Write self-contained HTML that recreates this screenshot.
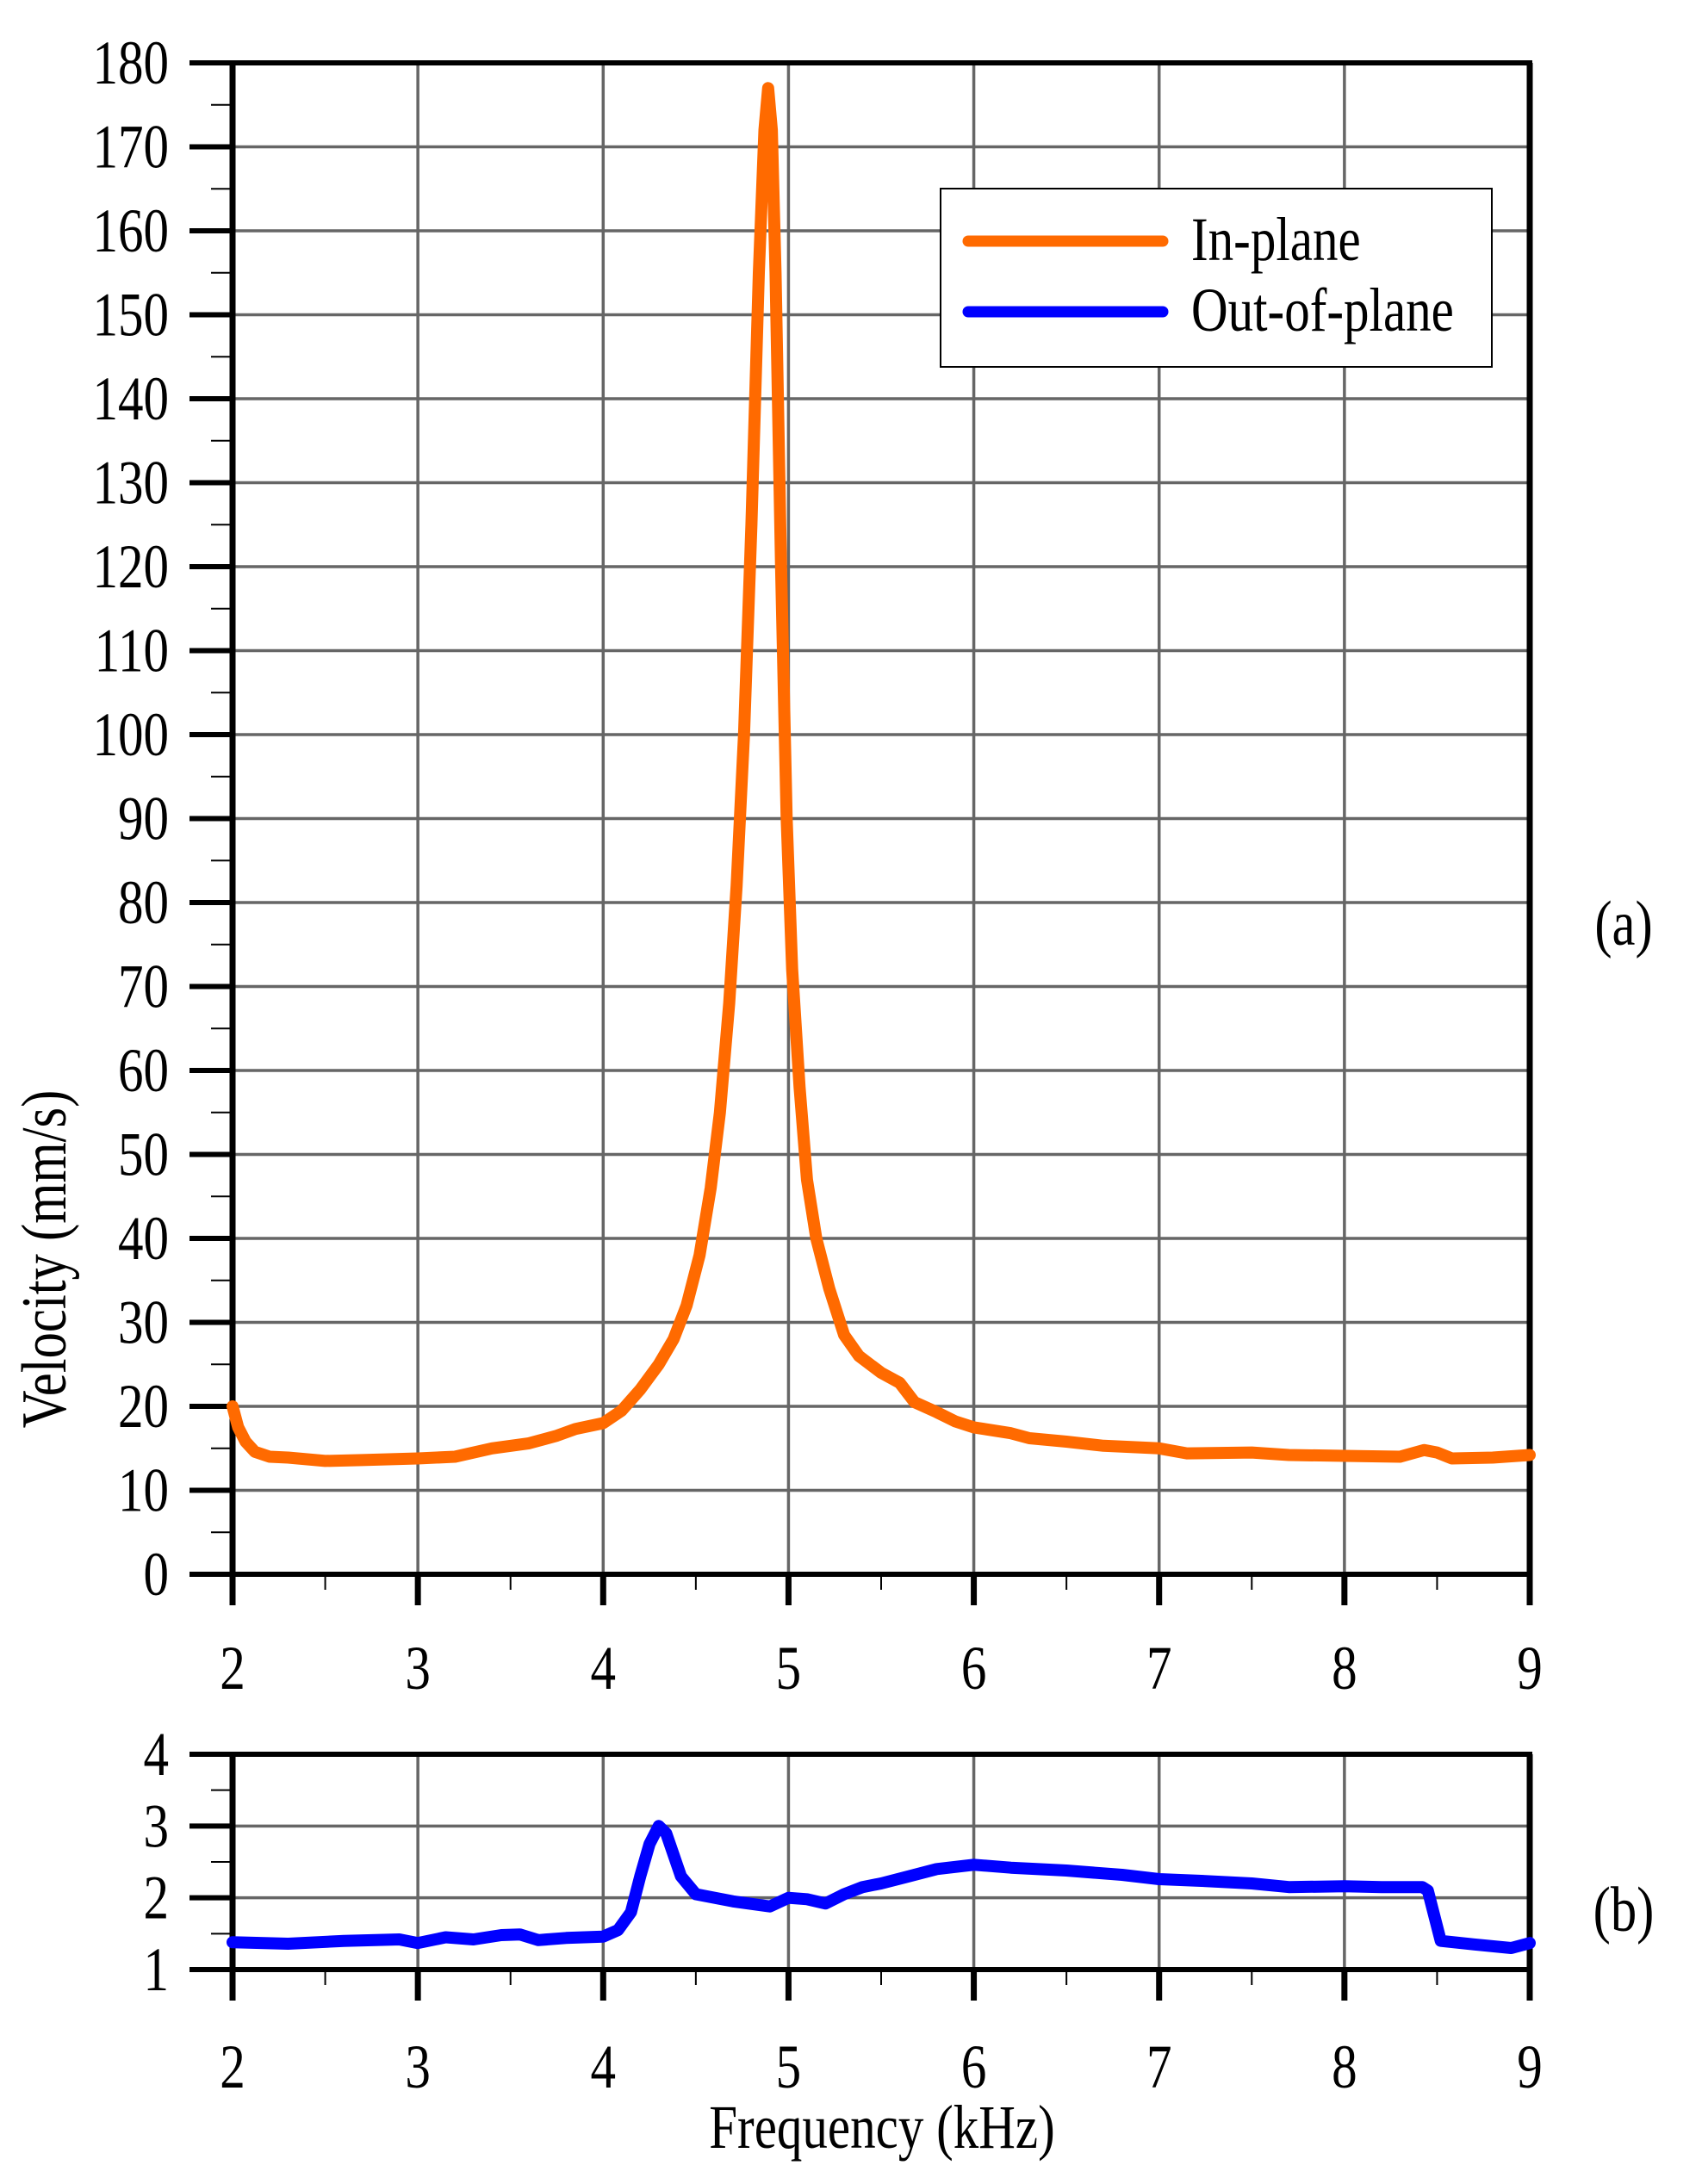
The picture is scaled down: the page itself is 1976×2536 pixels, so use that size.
<!DOCTYPE html>
<html><head><meta charset="utf-8"><style>html,body{margin:0;padding:0;background:#fff}svg{display:block}</style></head>
<body>
<svg id="s" width="1976" height="2536" xmlns="http://www.w3.org/2000/svg" font-family="Liberation Serif, serif"></svg>
<script>
const S=document.getElementById('s');
const X0=270,X1=1776,kx=(X1-X0)/7;
const fx=f=>X0+(f-2)*kx;
const T0=73,TB=1828,fyT=v=>TB-(v/180)*(TB-T0);
const B0=2037,BB=2287,fyB=v=>BB-(v-1)/3*(BB-B0);
let h='';
function line(x1,y1,x2,y2,c,w){h+=`<line x1="${x1}" y1="${y1}" x2="${x2}" y2="${y2}" stroke="${c}" stroke-width="${w}"/>`;}
function cond(x,y,s,size,anchor){h+=`<g transform="translate(${x},${y}) scale(0.82,1)"><text x="0" y="0" font-size="${size}" text-anchor="${anchor||'middle'}">${s}</text></g>`;}
for(let v=10;v<180;v+=10)line(X0,fyT(v),X1,fyT(v),'#666',3.5);
for(let f=3;f<9;f++)line(fx(f),T0,fx(f),TB,'#666',3.5);
for(let v=2;v<4;v++)line(X0,fyB(v),X1,fyB(v),'#666',3.5);
for(let f=3;f<9;f++)line(fx(f),B0,fx(f),BB,'#666',3.5);
function frame(top,bot,fy,vals,minors){
  line(X0,top,X0,bot,'#000',7);line(X1,top,X1,bot,'#000',7);
  line(220,top,X1+3,top,'#000',6);line(220,bot,X1+3,bot,'#000',6);
  vals.forEach(v=>line(220,fy(v),X0,fy(v),'#000',6));
  minors.forEach(v=>line(245,fy(v),X0,fy(v),'#000',2));
  for(let f=2;f<=9;f++)line(fx(f),bot,fx(f),bot+36,'#000',7);
  for(let f=2.5;f<9;f++)line(fx(f),bot,fx(f),bot+18,'#000',2);
}
let tv=[],tm=[];for(let v=0;v<=180;v+=10){tv.push(v);if(v<180)tm.push(v+5);}
frame(T0,TB,fyT,tv,tm);
frame(B0,BB,fyB,[1,2,3,4],[1.5,2.5,3.5]);
tv.forEach(v=>cond(196,fyT(v)+24,v,72,'end'));
[1,2,3,4].forEach(v=>cond(196,fyB(v)+24,v,72,'end'));
for(let f=2;f<=9;f++){cond(fx(f),1961,f,72);cond(fx(f),2424,f,72);}
const A=[[2,20],[2.03,17.5],[2.07,15.8],[2.12,14.6],[2.2,14],[2.3,13.9],[2.5,13.5],[2.7,13.6],[3,13.8],[3.2,14],[3.4,15],[3.6,15.6],[3.75,16.5],[3.85,17.3],[4,18],[4.1,19.5],[4.2,22],[4.3,25],[4.38,28],[4.45,32],[4.52,38],[4.58,46],[4.63,55],[4.68,68],[4.72,82],[4.76,100],[4.8,125],[4.84,155],[4.87,172],[4.89,177],[4.91,172],[4.93,155],[4.96,120],[4.99,90],[5.02,72],[5.06,58],[5.1,47],[5.15,40],[5.22,34],[5.3,28.5],[5.38,26],[5.5,24],[5.6,22.8],[5.68,20.5],[5.8,19.3],[5.9,18.2],[6,17.5],[6.2,16.8],[6.3,16.2],[6.5,15.8],[6.7,15.3],[7,15],[7.15,14.4],[7.5,14.5],[7.7,14.2],[8,14.1],[8.3,14],[8.43,14.8],[8.5,14.5],[8.58,13.8],[8.8,13.9],[9,14.2]];
const B=[[2,1.38],[2.3,1.36],[2.6,1.4],[2.9,1.42],[3,1.37],[3.15,1.45],[3.3,1.42],[3.45,1.48],[3.55,1.49],[3.65,1.41],[3.8,1.44],[4,1.46],[4.08,1.55],[4.15,1.8],[4.2,2.3],[4.25,2.75],[4.3,3.0],[4.34,2.9],[4.38,2.6],[4.42,2.3],[4.5,2.05],[4.7,1.95],[4.9,1.88],[5,2.0],[5.1,1.98],[5.2,1.92],[5.3,2.05],[5.4,2.15],[5.5,2.2],[5.65,2.3],[5.8,2.4],[6,2.46],[6.2,2.42],[6.5,2.38],[6.8,2.32],[7,2.26],[7.2,2.24],[7.5,2.2],[7.7,2.15],[8,2.16],[8.2,2.15],[8.42,2.15],[8.45,2.1],[8.52,1.4],[8.7,1.35],[8.9,1.3],[9,1.37]];
function poly(d,fy,c){h+=`<polyline fill="none" stroke="${c}" stroke-width="14" stroke-linejoin="round" stroke-linecap="round" points="${d.map(p=>fx(p[0]).toFixed(1)+','+fy(p[1]).toFixed(1)).join(' ')}"/>`;}
poly(A,fyT,'#ff6a00');poly(B,fyB,'#0000ff');
h+=`<rect x="1092" y="219" width="640" height="207" fill="#fff" stroke="#000" stroke-width="2"/>`;
h+=`<line x1="1124" y1="280" x2="1350" y2="280" stroke="#ff6a00" stroke-width="13" stroke-linecap="round"/>`;
h+=`<line x1="1124" y1="362" x2="1350" y2="362" stroke="#0000ff" stroke-width="13" stroke-linecap="round"/>`;
cond(1383,302,'In-plane',72,'start');cond(1383,384,'Out-of-plane',72,'start');
cond(1885,1097,'(a)',74);cond(1885,2242,'(b)',74);
cond(1024,2494,'Frequency (kHz)',72);
h+=`<g transform="translate(76,1462) rotate(-90) scale(0.82,1)"><text x="0" y="0" font-size="74" text-anchor="middle">Velocity (mm/s)</text></g>`;
S.innerHTML=h;
</script>
</body></html>
